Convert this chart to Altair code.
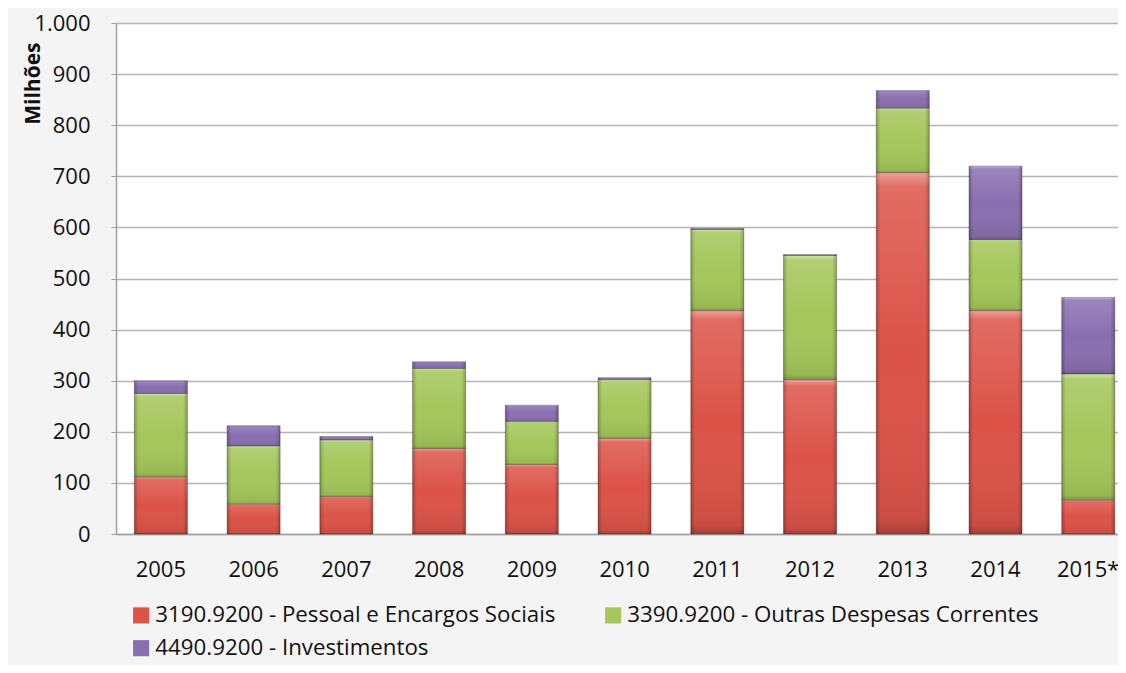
import altair as alt
import pandas as pd

years = ["2005", "2006", "2007", "2008", "2009", "2010", "2011", "2012", "2013", "2014", "2015*"]
series = ["3190.9200 - Pessoal e Encargos Sociais",
          "3390.9200 - Outras Despesas Correntes",
          "4490.9200 - Investimentos"]
pessoal = [111, 58, 73, 167, 136, 187, 437, 302, 707, 437, 66]
outras = [164, 114, 111, 157, 84, 115, 159, 243, 126, 139, 247]
invest = [25, 40, 7, 13, 32, 4, 2, 2, 35, 144, 150]
colors = ["#dc5348", "#a4c65a", "#8a6fb0"]
y_ticks = [0, 100, 200, 300, 400, 500, 600, 700, 800, 900, 1000]

rows = []
for i, y in enumerate(years):
    for k, vals in enumerate([pessoal, outras, invest]):
        rows.append({"year": y, "series": series[k], "value": vals[i], "order": k})
df = pd.DataFrame(rows)

FONT = "Open Sans"

base = alt.Chart(df).transform_stack(
    stack="value", groupby=["year"],
    sort=[alt.SortField("order", order="ascending")],
    as_=["y0", "y1"]
)

xenc = alt.X("year:N", sort=years, title=None,
             scale=alt.Scale(paddingInner=0.4285, paddingOuter=0.1165, align=0.85),
             axis=alt.Axis(labelAngle=0, ticks=False, labelPadding=25,
                           labelFontSize=22, labelFont=FONT, labelColor="#111111",
                           domainColor="#a0a0a0", domainWidth=1.5))
yenc = alt.Y("y1:Q", title="Milhões",
             scale=alt.Scale(domain=[0, 1000], nice=False),
             axis=alt.Axis(values=y_ticks,
                           labelExpr="replace(format(datum.value, ','), ',', '.')",
                           labelFontSize=22, labelFont=FONT, labelColor="#111111",
                           labelPadding=21, tickSize=5, tickColor="#a0a0a0",
                           domainColor="#a0a0a0", domainWidth=1.5,
                           gridColor="#b4b4b4", gridWidth=1.5,
                           titleFont=FONT, titleFontSize=21, titleFontWeight="bold",
                           titleColor="#111111",
                           titleAngle=-90, titleAlign="right", titleBaseline="middle",
                           titleX=-83, titleY=19))

bars = base.mark_bar(stroke="rgba(0,0,0,0.3)", strokeWidth=1).encode(
    x=xenc, y=yenc, y2="y0:Q",
    color=alt.Color("series:N", sort=series,
                    scale=alt.Scale(domain=series, range=colors),
                    legend=alt.Legend(title=None, orient="none", legendX=14, legendY=581,
                                      direction="horizontal", columns=2,
                                      columnPadding=46, rowPadding=10,
                                      labelFont=FONT, labelFontSize=22.3,
                                      labelColor="#111111", labelLimit=0,
                                      symbolType="square", symbolSize=260,
                                      symbolStrokeWidth=0, symbolOffset=0,
                                      labelOffset=3))
)

vgrad = alt.LinearGradient(gradient="linear", x1=0, x2=0, y1=0, y2=1, stops=[
    alt.GradientStop(offset=0, color="rgba(255,255,255,0.45)"),
    alt.GradientStop(offset=0.04, color="rgba(255,255,255,0.15)"),
    alt.GradientStop(offset=0.5, color="rgba(255,255,255,0)"),
    alt.GradientStop(offset=0.96, color="rgba(0,0,0,0.08)"),
    alt.GradientStop(offset=1, color="rgba(0,0,0,0.25)"),
])
hgrad = alt.LinearGradient(gradient="linear", x1=0, x2=1, y1=0, y2=0, stops=[
    alt.GradientStop(offset=0, color="rgba(0,0,0,0.22)"),
    alt.GradientStop(offset=0.08, color="rgba(0,0,0,0)"),
    alt.GradientStop(offset=0.92, color="rgba(0,0,0,0)"),
    alt.GradientStop(offset=1, color="rgba(0,0,0,0.22)"),
])

over1 = base.mark_bar(fill=vgrad, strokeWidth=0).encode(x=alt.X("year:N", sort=years), y="y1:Q", y2="y0:Q")
over2 = base.mark_bar(fill=hgrad, strokeWidth=0).encode(x=alt.X("year:N", sort=years), y="y1:Q", y2="y0:Q")

chart = alt.layer(bars, over1, over2).properties(
    width=1002, height=511,
    autosize=alt.AutoSizeParams(type="none"),
    padding={"left": 108, "top": 15, "right": 0, "bottom": 131},
    background="#f4f4f4",
).configure_view(fill="white", stroke=None)

chart.save("out.html", embed_options={"renderer": "svg", "actions": False})
